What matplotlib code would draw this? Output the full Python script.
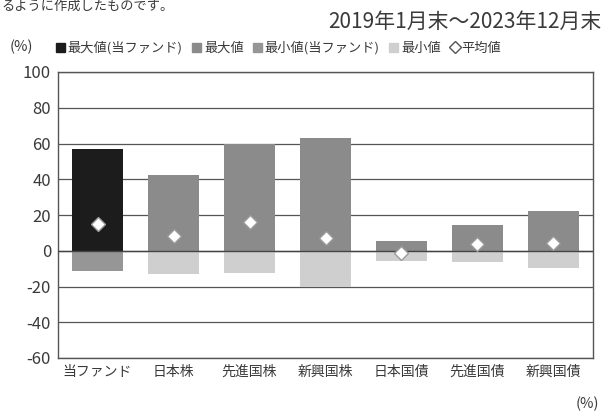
import matplotlib
matplotlib.use("Agg")
import matplotlib.pyplot as plt
from matplotlib.patches import Patch
from matplotlib.lines import Line2D

plt.rcParams['font.family'] = ['Noto Sans CJK JP', 'DejaVu Sans']

categories = ["当ファンド", "日本株", "先進国株", "新興国株", "日本国債", "先進国債", "新興国債"]
max_vals = [57, 42.5, 60, 63, 5.5, 14.5, 22]
min_vals = [-11.5, -13, -12.5, -20.5, -6, -6.5, -9.5]
avg_vals = [15, 8, 16, 7, -1, 3.5, 4.5]
yticks = [100, 80, 60, 40, 20, 0, -20, -40, -60]

black = "#1c1c1c"
gray = "#8b8b8b"
fund_min = "#969696"
light = "#cfcfcf"
txt = "#3a3a3a"

fig = plt.figure(figsize=(6.08, 4.13), dpi=100)
ax = fig.add_axes([58/608, 1-358/413, (593-58)/608, (358-72)/413])

x = list(range(len(categories)))
w = 0.67
max_colors = [black] + [gray]*(len(categories)-1)
min_colors = [fund_min] + [light]*(len(categories)-1)
ax.bar(x, max_vals, width=w, color=max_colors, zorder=3)
ax.bar(x, min_vals, width=w, color=min_colors, zorder=3)
ax.plot(x, avg_vals, linestyle='none', marker='D', markersize=7.5,
        markerfacecolor='white', markeredgecolor='#9a9a9a', markeredgewidth=1.0, zorder=4)

ax.set_ylim(-60, 100)
ax.set_xlim(-0.52, 6.52)
ax.set_yticks(yticks)
ax.set_yticklabels([str(v) for v in yticks], fontsize=12, color=txt)
ax.set_xticks(x)
ax.set_xticklabels(categories, fontsize=10, color=txt)
ax.tick_params(length=0, pad=5)
ax.tick_params(axis='x', pad=5)
ax.grid(axis='y', color='#555555', linewidth=0.9, zorder=1)
ax.axhline(0, color='#444444', linewidth=1.0, zorder=3.5)
for s in ax.spines.values():
    s.set_color('#555555')
    s.set_linewidth(1.0)

fig.text(601/608, 1-22/413, "2019年1月末～2023年12月末", ha='right', va='center', fontsize=15, color=txt)
fig.text(10/608, 1-47/413, "(%)", ha='left', va='center', fontsize=10.5, color=txt)
fig.text(599/608, 1-404/413, "(%)", ha='right', va='center', fontsize=10.5, color=txt)
fig.text(2/608, 1.0, "るように作成したものです。", ha='left', va='top', fontsize=9.5, color=txt)

handles = [Patch(color=black), Patch(color=gray), Patch(color=fund_min), Patch(color=light),
           Line2D([], [], linestyle='none', marker='D', markersize=6.5, markerfacecolor='white',
                  markeredgecolor='#555555')]
labels = ["最大値(当ファンド)", "最大値", "最小値(当ファンド)", "最小値", "平均値"]
fig.legend(handles, labels, loc='center left', bbox_to_anchor=(56/608, 1-48/413), ncol=5,
           frameon=False, fontsize=9.5, handlelength=0.7, handleheight=0.7, handletextpad=0.2,
           columnspacing=0.7, labelcolor=txt, borderpad=0, borderaxespad=0)

fig.savefig("out.png", dpi=100)
